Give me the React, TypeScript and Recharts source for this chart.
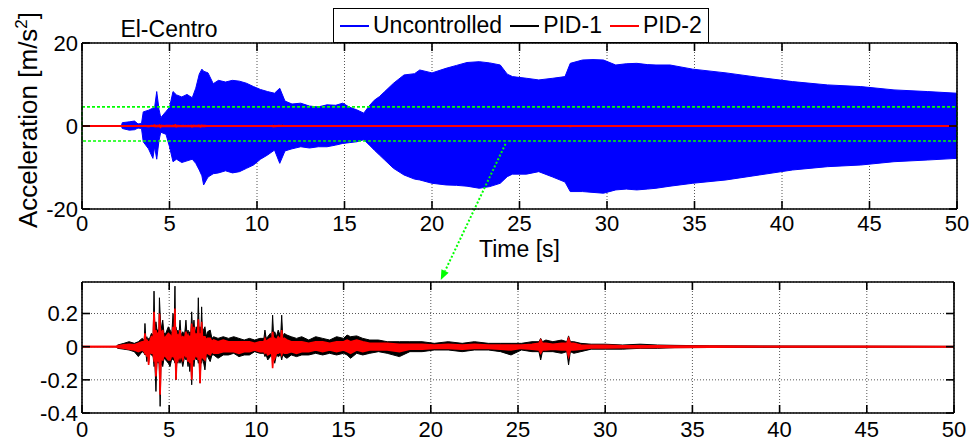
import React from 'react';
import {
  ComposedChart,
  Area,
  XAxis,
  YAxis,
  CartesianGrid,
  ReferenceArea,
  ReferenceLine,
  Legend,
  Label,
} from 'recharts';

const FONT = '"Liberation Sans", Arial, Helvetica, sans-serif';

// ---------- tick labels ----------
const timeTicks = [0, 5, 10, 15, 20, 25, 30, 35, 40, 45, 50];
const topYTicks = [-20, 0, 20];
const bottomYTicks = [-0.4, -0.2, 0, 0.2];

// ---------- legend ----------
const seriesNames = ['Uncontrolled', 'PID-1', 'PID-2'];
const seriesColors = ['#0000ff', '#000000', '#ff0000'];

// ---------- Uncontrolled response envelope (m/s^2) ----------
const uncT = [
  0, 2.25, 2.3, 2.7, 3.0, 3.2, 3.4, 3.5, 3.8, 4.05, 4.15, 4.27, 4.4, 4.5, 4.8,
  5.0, 5.2, 5.4, 5.7, 6.0, 6.3, 6.5, 6.7, 6.85, 6.95, 7.2, 7.5, 7.8, 8.2, 8.6,
  9.0, 9.4, 9.8, 10.2, 10.6, 11.0, 11.3, 11.6, 12.0, 12.5, 13.0, 13.5, 14.0,
  14.5, 14.9, 15.3, 15.7, 16.1, 16.4, 16.7, 17.0, 17.3, 17.8, 18.4, 19.0, 19.3,
  20.0, 20.8, 21.4, 22.0, 22.7, 23.3, 23.9, 24.3, 24.6, 25.4, 26.1, 26.9, 27.6,
  27.9, 28.6, 29.2, 29.8, 30.5, 31.1, 31.7, 32.3, 32.8, 33.6, 34.9, 36.8, 38.7,
  40.6, 42.6, 44.5, 46.4, 48.3, 50,
];
const uncHi = [
  0, 0, 0.8, 1.0, 1.2, 0.5, 0.6, 3.4, 3.8, 4.3, 4.5, 8.3, 4.0, 2.0, 3.5,
  4.5, 8.3, 7.5, 7.0, 7.6, 6.8, 9.1, 12.5, 13.7, 13.2, 12.8, 10.2, 11.0, 10.6, 11.0,
  10.8, 10.3, 9.5, 8.8, 8.3, 7.9, 9.1, 6.0, 5.3, 5.5, 4.8, 4.6, 5.1,
  5.0, 5.5, 4.5, 3.9, 3.1, 4.8, 6.2, 7.1, 8.3, 10.3, 12.3, 12.6, 13.5,
  12.8, 13.9, 14.6, 15.3, 15.5, 15.2, 14.7, 12.5, 11.9, 11.5, 11.1, 11.5, 11.9,
  15.1, 15.9, 16.0, 15.9, 14.7, 15.0, 15.1, 14.8, 14.7, 14.7, 13.7, 12.8, 11.7,
  10.7, 9.9, 9.5, 8.7, 8.3, 7.9,
];
const uncLo = [
  0, 0, -0.6, -1.0, -0.9, -0.5, -0.6, -3.8, -5.5, -7.8, -5.0, -8.0, -3.5, -1.5, -2.0,
  -5.0, -8.6, -8.0, -8.8, -8.4, -8.0, -9.0, -10.6, -12.0, -14.2, -12.3, -11.5, -11.3, -10.8, -11.3,
  -11.0, -10.2, -9.4, -8.0, -7.0, -5.8, -9.0, -6.0, -5.5, -5.0, -5.3, -5.0, -5.0,
  -4.6, -4.2, -4.0, -3.8, -3.3, -4.5, -5.8, -7.0, -8.2, -10.2, -11.8, -12.8, -13.0,
  -13.8, -14.2, -14.3, -14.5, -15.0, -14.6, -13.8, -12.2, -11.6, -11.6, -11.0, -12.3, -13.5,
  -15.8, -15.8, -16.0, -16.2, -15.4, -15.2, -15.4, -15.2, -15.0, -14.5, -13.8, -13.0, -11.8,
  -10.6, -9.8, -9.4, -8.6, -8.2, -7.8,
];

// ---------- controlled responses envelope (m/s^2) ----------
const pidT = [
  0, 1.95, 2.05, 2.4, 2.7, 3.0, 3.23, 3.45, 3.57, 3.61,
  3.66, 3.72, 3.77, 3.82, 3.88, 3.98, 4.08, 4.13, 4.18, 4.24,
  4.3, 4.36, 4.41, 4.44, 4.48, 4.53, 4.63, 4.7, 4.8, 4.95,
  5.05, 5.15, 5.22, 5.28, 5.33, 5.36, 5.39, 5.44, 5.5, 5.56,
  5.62, 5.68, 5.78, 5.88, 5.96, 6.02, 6.08, 6.13, 6.18, 6.24,
  6.29, 6.35, 6.42, 6.48, 6.55, 6.62, 6.67, 6.72, 6.77, 6.82,
  6.86, 6.91, 6.96, 7.05, 7.12, 7.2, 7.35, 7.45, 7.55, 7.8,
  8.1, 8.4, 8.7, 9.0, 9.3, 9.6, 9.9, 10.2, 10.43, 10.49,
  10.56, 10.65, 10.8, 10.88, 10.93, 10.99, 11.05, 11.15, 11.25, 11.39,
  11.45, 11.51, 11.6, 11.75, 12.0, 12.3, 12.6, 13.0, 13.4, 13.8,
  14.2, 14.6, 15.0, 15.2, 15.4, 15.75, 16.1, 16.5, 17.0, 17.5,
  18.2, 18.8, 19.5, 20.2, 21.0, 21.8, 22.5, 23.3, 24.0, 24.6,
  25.2, 25.8, 26.2, 26.3, 26.4, 26.6, 27.0, 27.5, 27.8, 27.9,
  28.0, 28.2, 28.6, 29.2, 30.0, 31.0, 32.0, 33.0, 34.0, 36.0,
  40.0, 45.0, 50.0,
];
const pid1Hi = [
  0, 0, 0.01, 0.02, 0.03, 0.02, 0.03, 0.05, 0.04, 0.14,
  0.05, 0.06, 0.04, 0.05, 0.05, 0.08, 0.07, 0.335, 0.1, 0.15,
  0.1, 0.1, 0.1, 0.295, 0.2, 0.1, 0.16, 0.08, 0.08, 0.12,
  0.1, 0.08, 0.2, 0.1, 0.365, 0.12, 0.12, 0.08, 0.1, 0.07,
  0.16, 0.07, 0.09, 0.07, 0.16, 0.07, 0.1, 0.07, 0.09, 0.08,
  0.21, 0.08, 0.16, 0.07, 0.12, 0.07, 0.295, 0.08, 0.12, 0.08,
  0.24, 0.07, 0.1, 0.12, 0.06, 0.09, 0.1, 0.05, 0.06, 0.05,
  0.06, 0.05, 0.06, 0.05, 0.04, 0.05, 0.04, 0.05, 0.05, 0.1,
  0.05, 0.06, 0.08, 0.06, 0.19, 0.06, 0.09, 0.06, 0.1, 0.06,
  0.19, 0.06, 0.08, 0.07, 0.06, 0.05, 0.06, 0.04, 0.06, 0.05,
  0.04, 0.06, 0.05, 0.07, 0.06, 0.065, 0.05, 0.04, 0.04, 0.03,
  0.03, 0.03, 0.03, 0.02, 0.03, 0.02, 0.03, 0.02, 0.02, 0.02,
  0.02, 0.03, 0.03, 0.05, 0.03, 0.04, 0.03, 0.04, 0.03, 0.065,
  0.03, 0.03, 0.02, 0.015, 0.015, 0.01, 0.015, 0.01, 0.008, 0.005,
  0.004, 0.003, 0.002,
];
const pid1Lo = [
  0, 0, -0.01, -0.015, -0.02, -0.03, -0.06, -0.03, -0.04, -0.05,
  -0.04, -0.09, -0.04, -0.1, -0.04, -0.05, -0.06, -0.12, -0.1, -0.27,
  -0.08, -0.1, -0.08, -0.15, -0.36, -0.1, -0.12, -0.07, -0.08, -0.1,
  -0.12, -0.07, -0.08, -0.08, -0.1, -0.1, -0.2, -0.08, -0.1, -0.07,
  -0.1, -0.07, -0.12, -0.06, -0.08, -0.07, -0.12, -0.07, -0.15, -0.08,
  -0.23, -0.08, -0.12, -0.06, -0.08, -0.07, -0.1, -0.08, -0.22, -0.08,
  -0.1, -0.07, -0.09, -0.14, -0.06, -0.06, -0.09, -0.05, -0.05, -0.07,
  -0.05, -0.05, -0.04, -0.06, -0.05, -0.05, -0.03, -0.04, -0.04, -0.06,
  -0.05, -0.08, -0.06, -0.05, -0.07, -0.06, -0.1, -0.05, -0.06, -0.05,
  -0.08, -0.05, -0.06, -0.07, -0.05, -0.06, -0.05, -0.05, -0.04, -0.05,
  -0.04, -0.05, -0.04, -0.05, -0.07, -0.04, -0.05, -0.04, -0.03, -0.04,
  -0.06, -0.03, -0.03, -0.02, -0.02, -0.03, -0.02, -0.02, -0.03, -0.05,
  -0.02, -0.03, -0.03, -0.08, -0.03, -0.03, -0.03, -0.04, -0.03, -0.11,
  -0.03, -0.04, -0.03, -0.015, -0.015, -0.015, -0.01, -0.01, -0.006, -0.005,
  -0.004, -0.003, -0.002,
];
const pid2Hi = [
  0, 0, 0.005, 0.012, 0.015, 0.012, 0.02, 0.03, 0.03, 0.08,
  0.04, 0.04, 0.03, 0.03, 0.03, 0.06, 0.05, 0.21, 0.07, 0.1,
  0.07, 0.08, 0.07, 0.2, 0.12, 0.07, 0.1, 0.05, 0.06, 0.08,
  0.07, 0.05, 0.12, 0.07, 0.23, 0.08, 0.1, 0.06, 0.07, 0.05,
  0.1, 0.05, 0.06, 0.05, 0.09, 0.05, 0.07, 0.05, 0.06, 0.05,
  0.14, 0.05, 0.12, 0.05, 0.08, 0.05, 0.165, 0.05, 0.08, 0.05,
  0.15, 0.05, 0.06, 0.06, 0.04, 0.05, 0.05, 0.03, 0.04, 0.03,
  0.04, 0.03, 0.03, 0.03, 0.03, 0.03, 0.02, 0.03, 0.03, 0.05,
  0.03, 0.04, 0.05, 0.04, 0.09, 0.04, 0.05, 0.04, 0.06, 0.04,
  0.1, 0.04, 0.05, 0.04, 0.03, 0.03, 0.03, 0.02, 0.03, 0.03,
  0.02, 0.03, 0.03, 0.04, 0.03, 0.04, 0.03, 0.02, 0.02, 0.02,
  0.015, 0.015, 0.015, 0.01, 0.015, 0.01, 0.015, 0.01, 0.01, 0.01,
  0.01, 0.015, 0.02, 0.04, 0.02, 0.02, 0.015, 0.02, 0.02, 0.05,
  0.02, 0.02, 0.01, 0.008, 0.008, 0.006, 0.006, 0.005, 0.004, 0.003,
  0.002, 0.002, 0.001,
];
const pid2Lo = [
  0, 0, -0.005, -0.01, -0.015, -0.02, -0.03, -0.02, -0.03, -0.04,
  -0.03, -0.06, -0.03, -0.11, -0.03, -0.04, -0.04, -0.08, -0.07, -0.18,
  -0.06, -0.08, -0.06, -0.1, -0.29, -0.07, -0.08, -0.05, -0.06, -0.08,
  -0.08, -0.05, -0.06, -0.06, -0.08, -0.07, -0.2, -0.06, -0.08, -0.05,
  -0.07, -0.05, -0.08, -0.04, -0.06, -0.05, -0.09, -0.05, -0.1, -0.05,
  -0.2, -0.05, -0.08, -0.04, -0.06, -0.05, -0.08, -0.05, -0.22, -0.05,
  -0.07, -0.05, -0.07, -0.08, -0.04, -0.04, -0.05, -0.03, -0.04, -0.04,
  -0.03, -0.03, -0.03, -0.04, -0.03, -0.03, -0.02, -0.03, -0.03, -0.04,
  -0.03, -0.05, -0.04, -0.04, -0.13, -0.04, -0.07, -0.04, -0.04, -0.03,
  -0.05, -0.03, -0.04, -0.04, -0.03, -0.04, -0.03, -0.03, -0.02, -0.03,
  -0.02, -0.03, -0.02, -0.03, -0.04, -0.02, -0.03, -0.02, -0.02, -0.02,
  -0.03, -0.015, -0.015, -0.01, -0.01, -0.015, -0.01, -0.01, -0.015, -0.02,
  -0.01, -0.015, -0.02, -0.04, -0.02, -0.02, -0.015, -0.02, -0.02, -0.06,
  -0.02, -0.02, -0.015, -0.008, -0.008, -0.006, -0.006, -0.005, -0.004, -0.003,
  -0.002, -0.002, -0.001,
];

// ---------- annotations (data units of the upper panel) ----------
const zoomBox = { x1: 0, x2: 50, y1: -3.6, y2: 4.6 };
const arrowFrom = { x: 24.2, y: -4.3 };
const arrowTo = { x: 20.5, y: -37.1 };

// ---------- tables built from the arrays ----------
const uncRows = uncT.map((t, i) => ({ t, unc: [uncLo[i], uncHi[i]] }));
const pidRows = pidT.map((t, i) => ({
  t,
  pid1: [pid1Lo[i], pid1Hi[i]],
  pid2: [pid2Lo[i], pid2Hi[i]],
}));
const topRows = [...uncRows, ...pidRows].sort((a, b) => a.t - b.t);

// ---------- axis helpers ----------
const TICK_LEN = 8;
const AXIS_LINE = { stroke: '#000', strokeWidth: 1.6 };

const bottomTick = (textDy: number) => (p: any) => (
  <g>
    <line x1={p.x} x2={p.x} y1={p.y} y2={p.y - TICK_LEN} stroke="#000" strokeWidth={1.6} />
    <text x={p.x} y={p.y + textDy} textAnchor="middle" fontFamily={FONT} fontSize={22} fill="#000">
      {p.payload.value}
    </text>
  </g>
);
const topTick = (p: any) => (
  <line x1={p.x} x2={p.x} y1={p.y} y2={p.y + TICK_LEN} stroke="#000" strokeWidth={1.6} />
);
const leftTick = (p: any) => (
  <g>
    <line x1={p.x} x2={p.x + TICK_LEN} y1={p.y} y2={p.y} stroke="#000" strokeWidth={1.6} />
    <text x={p.x - 4} y={p.y} dy="0.36em" textAnchor="end" fontFamily={FONT} fontSize={22} fill="#000">
      {p.payload.value}
    </text>
  </g>
);
const rightTick = (p: any) => (
  <line x1={p.x} x2={p.x - TICK_LEN} y1={p.y} y2={p.y} stroke="#000" strokeWidth={1.6} />
);

const ArrowShape = (p: any) => {
  const { x1, y1, x2, y2 } = p;
  const ang = Math.atan2(y2 - y1, x2 - x1);
  const L = 10;
  const W = 4;
  const bx = x2 - L * Math.cos(ang);
  const by = y2 - L * Math.sin(ang);
  const px = -Math.sin(ang) * W;
  const py = Math.cos(ang) * W;
  return (
    <g>
      <line x1={x1} y1={y1} x2={bx} y2={by} stroke="#00ff00" strokeWidth={2} strokeDasharray="2 2" />
      <polygon points={`${x2},${y2} ${bx + px},${by + py} ${bx - px},${by - py}`} fill="#00ff00" />
    </g>
  );
};

const LegendBox = () => (
  <div
    style={{
      boxSizing: 'border-box',
      width: 376,
      height: 35,
      border: '1px solid #000',
      background: '#fff',
      display: 'flex',
      alignItems: 'center',
      fontFamily: FONT,
      fontSize: 23,
      color: '#000',
      paddingLeft: 6,
      whiteSpace: 'nowrap',
    }}
  >
    {seriesNames.map((n, i) => (
      <React.Fragment key={n}>
        <span
          style={{
            display: 'inline-block',
            width: 29,
            height: 0,
            borderTop: `2px solid ${seriesColors[i]}`,
            marginLeft: i === 0 ? 0 : 8,
            marginRight: 4,
          }}
        />
        <span>{n}</span>
      </React.Fragment>
    ))}
  </div>
);

const gridProps = { stroke: '#555', strokeDasharray: '1 2', strokeWidth: 1 };

function TopPanel() {
  return (
    <ComposedChart
      width={973}
      height={284}
      data={topRows}
      margin={{ top: 42, right: 15, bottom: 45, left: 22 }}
    >
      <CartesianGrid {...gridProps} />
      <XAxis
        dataKey="t"
        type="number"
        domain={[0, 50]}
        ticks={timeTicks}
        interval={0}
        allowDataOverflow
        height={30}
        tickSize={0}
        tickMargin={0}
        tickLine={false}
        axisLine={AXIS_LINE}
        tick={bottomTick(22)}
      >
        <Label
          content={(p: any) => {
            const vb = p.viewBox;
            return (
              <text
                x={vb.x + vb.width / 2}
                y={vb.y + 48}
                textAnchor="middle"
                fontFamily={FONT}
                fontSize={23}
                fill="#000"
              >
                Time [s]
              </text>
            );
          }}
        />
      </XAxis>
      <XAxis
        xAxisId="top"
        orientation="top"
        dataKey="t"
        type="number"
        domain={[0, 50]}
        ticks={timeTicks}
        interval={0}
        allowDataOverflow
        height={1}
        tickSize={0}
        tickMargin={0}
        tickLine={false}
        axisLine={AXIS_LINE}
        tick={topTick}
      />
      <YAxis
        type="number"
        domain={[-20, 20]}
        ticks={topYTicks}
        interval={0}
        allowDataOverflow
        width={60}
        tickSize={0}
        tickMargin={0}
        tickLine={false}
        axisLine={AXIS_LINE}
        tick={leftTick}
      >
        <Label
          content={(p: any) => {
            const vb = p.viewBox;
            const x = vb.x + 15;
            const y = vb.y + vb.height / 2 - 6;
            return (
              <text
                x={x}
                y={y}
                transform={`rotate(-90 ${x} ${y})`}
                textAnchor="middle"
                fontFamily={FONT}
                fontSize={26}
                fill="#000"
              >
                Acceleration [m/s
                <tspan dy={-10} fontSize={17}>2</tspan>
                <tspan dy={10}>]</tspan>
              </text>
            );
          }}
        />
      </YAxis>
      <YAxis
        yAxisId="right"
        orientation="right"
        type="number"
        domain={[-20, 20]}
        ticks={topYTicks}
        interval={0}
        allowDataOverflow
        width={1}
        tickSize={0}
        tickMargin={0}
        tickLine={false}
        axisLine={AXIS_LINE}
        tick={rightTick}
      />
      <Area
        type="linear"
        dataKey="unc"
        name={seriesNames[0]}
        stroke={seriesColors[0]}
        strokeWidth={1}
        fill={seriesColors[0]}
        fillOpacity={1}
        connectNulls
        dot={false}
        activeDot={false}
        isAnimationActive={false}
      />
      <Area
        type="linear"
        dataKey="pid1"
        name={seriesNames[1]}
        stroke={seriesColors[1]}
        strokeWidth={1}
        fill={seriesColors[1]}
        fillOpacity={1}
        connectNulls
        dot={false}
        activeDot={false}
        isAnimationActive={false}
      />
      <Area
        type="linear"
        dataKey="pid2"
        name={seriesNames[2]}
        stroke={seriesColors[2]}
        strokeWidth={1.8}
        fill={seriesColors[2]}
        fillOpacity={1}
        connectNulls
        dot={false}
        activeDot={false}
        isAnimationActive={false}
      />
      <ReferenceArea
        x1={zoomBox.x1}
        x2={zoomBox.x2}
        y1={zoomBox.y1}
        y2={zoomBox.y2}
        fill="none"
        fillOpacity={0}
        stroke="#00ff00"
        strokeWidth={1.6}
        strokeDasharray="3 2"
        ifOverflow="visible"
      />
      <ReferenceLine
        segment={[arrowFrom, arrowTo]}
        ifOverflow="visible"
        shape={ArrowShape}
      />
      <text x={169} y={37} textAnchor="middle" fontFamily={FONT} fontSize={23} fill="#000">
        El-Centro
      </text>
      <Legend
        layout="vertical"
        align="center"
        verticalAlign="middle"
        content={LegendBox}
        wrapperStyle={{ top: 8, left: 333, width: 376, height: 35 }}
      />
    </ComposedChart>
  );
}

function BottomPanel() {
  return (
    <ComposedChart
      width={973}
      height={203}
      data={pidRows}
      margin={{ top: 41, right: 18, bottom: 0, left: 22 }}
    >
      <CartesianGrid {...gridProps} />
      <XAxis
        dataKey="t"
        type="number"
        domain={[0, 50]}
        ticks={timeTicks}
        interval={0}
        allowDataOverflow
        height={30}
        tickSize={0}
        tickMargin={0}
        tickLine={false}
        axisLine={AXIS_LINE}
        tick={bottomTick(24)}
      />
      <XAxis
        xAxisId="top"
        orientation="top"
        dataKey="t"
        type="number"
        domain={[0, 50]}
        ticks={timeTicks}
        interval={0}
        allowDataOverflow
        height={1}
        tickSize={0}
        tickMargin={0}
        tickLine={false}
        axisLine={AXIS_LINE}
        tick={topTick}
      />
      <YAxis
        type="number"
        domain={[-0.4, 0.39]}
        ticks={bottomYTicks}
        interval={0}
        allowDataOverflow
        width={60}
        tickSize={0}
        tickMargin={0}
        tickLine={false}
        axisLine={AXIS_LINE}
        tick={leftTick}
      />
      <YAxis
        yAxisId="right"
        orientation="right"
        type="number"
        domain={[-0.4, 0.39]}
        ticks={bottomYTicks}
        interval={0}
        allowDataOverflow
        width={1}
        tickSize={0}
        tickMargin={0}
        tickLine={false}
        axisLine={AXIS_LINE}
        tick={rightTick}
      />
      <Area
        type="linear"
        dataKey="pid1"
        name={seriesNames[1]}
        stroke={seriesColors[1]}
        strokeWidth={1}
        fill={seriesColors[1]}
        fillOpacity={1}
        dot={false}
        activeDot={false}
        isAnimationActive={false}
      />
      <Area
        type="linear"
        dataKey="pid2"
        name={seriesNames[2]}
        stroke={seriesColors[2]}
        strokeWidth={1.6}
        fill={seriesColors[2]}
        fillOpacity={1}
        dot={false}
        activeDot={false}
        isAnimationActive={false}
      />
    </ComposedChart>
  );
}

export default function App() {
  return (
    <div
      style={{
        position: 'absolute',
        left: 0,
        top: 0,
        width: 973,
        height: 443,
        background: '#fff',
        overflow: 'hidden',
        fontFamily: FONT,
      }}
    >
      <div style={{ position: 'absolute', left: 0, top: 240, width: 973, height: 203 }}>
        <BottomPanel />
      </div>
      <div style={{ position: 'absolute', left: 0, top: 0, width: 973, height: 284, zIndex: 1 }}>
        <TopPanel />
      </div>
    </div>
  );
}
